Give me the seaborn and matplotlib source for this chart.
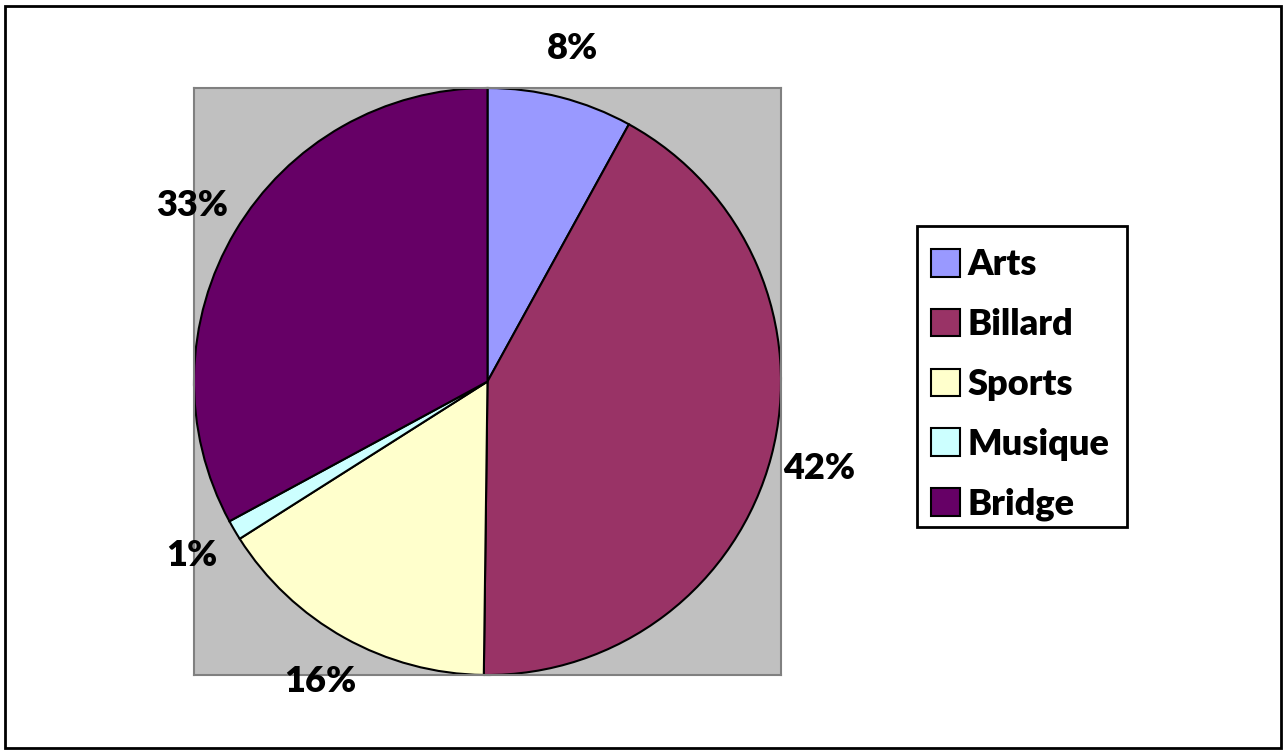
import matplotlib
matplotlib.use("Agg")
import matplotlib.pyplot as plt
import seaborn as sns
from matplotlib.patches import Rectangle

# Data
categories = ["Arts", "Billard", "Sports", "Musique", "Bridge"]
values = [8.0, 42.2, 15.8, 1.1, 32.9]
colors = ["#9999FF", "#993366", "#FFFFCC", "#CCFFFF", "#660066"]

sns.set_theme(style="white")
plt.rcParams["font.family"] = ["Lato", "DejaVu Sans"]
plt.rcParams["text.color"] = "black"

W, H = 1286, 754
fig = plt.figure(figsize=(W / 100, H / 100), dpi=100)
fig.patch.set_facecolor("white")

# outer chart border
fig.patches.append(Rectangle((5 / W, 6 / H), 1276 / W, 742 / H,
                             transform=fig.transFigure, fill=False,
                             edgecolor="black", linewidth=2))

ax = fig.add_axes([194 / W, 1 - 675 / H, 587 / W, 587 / H])

wedges, texts, autotexts = ax.pie(
    values, colors=colors, startangle=90, counterclock=False,
    radius=1.0, autopct="%.0f%%", pctdistance=1.17,
    wedgeprops=dict(edgecolor="black", linewidth=1.5),
    textprops=dict(fontsize=26, fontweight="heavy", color="black"),
)
for t in autotexts:
    t.set_clip_on(False)
ax.set_frame_on(True)
ax.set_facecolor("#C0C0C0")
for s in ax.spines.values():
    s.set_visible(True)
    s.set_color("#808080")
    s.set_linewidth(1.5)
ax.set_xlim(-1, 1)
ax.set_ylim(-1, 1)
ax.set_aspect("equal")
ax.set_xticks([])
ax.set_yticks([])

# legend frame drawn separately so the box size can match the reference
fig.patches.append(Rectangle((917 / W, 1 - 527 / H), 210 / W, 301 / H,
                             transform=fig.transFigure, fill=False,
                             edgecolor="black", linewidth=2))
leg = fig.legend(
    wedges, categories, loc="upper left",
    bbox_to_anchor=(917 / W, 1 - 234 / H),
    frameon=False,
    prop=dict(size=26, weight="heavy"), labelcolor="black",
    handlelength=0.8, handleheight=0.8, handletextpad=0.2,
    labelspacing=0.74, borderpad=0.4, borderaxespad=0,
)
for h in leg.legend_handles:
    h.set_linewidth(1.5)

fig.savefig("out.png", dpi=100)
